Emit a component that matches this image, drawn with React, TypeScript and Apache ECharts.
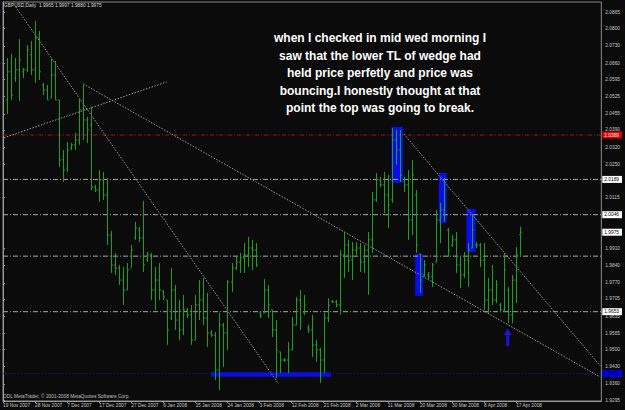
import React, { useEffect, useRef } from "react";
import * as echarts from "echarts";

// ---- data ----
const dateLabels = [
  "19 Nov 2007", "28 Nov 2007", "7 Dec 2007", "17 Dec 2007", "27 Dec 2007", "6 Jan 2008",
  "15 Jan 2008", "24 Jan 2008", "3 Feb 2008", "12 Feb 2008", "21 Feb 2008", "2 Mar 2008",
  "11 Mar 2008", "20 Mar 2008", "30 Mar 2008", "8 Apr 2008", "17 Apr 2008",
];
const firstBarSlot = 1;
const opens = [
  2.0511, 2.0625, 2.0600, 2.0633, 2.0625, 2.0633, 2.0694, 2.0633, 2.0762, 2.0572,
  2.0552, 2.0519, 2.0612, 2.0511, 2.0268, 2.0235, 2.0317, 2.0329, 2.0349, 2.0471,
  2.0430, 2.0410, 2.0158, 2.0146, 2.0187, 2.0126, 1.9964, 1.9842, 1.9830, 1.9781,
  1.9741, 1.9830, 1.9952, 1.9984, 1.9952, 1.9862, 1.9883, 1.9741, 1.9781, 1.9733,
  1.9700, 1.9627, 1.9741, 1.9619, 1.9579, 1.9660, 1.9640, 1.9538, 1.9680, 1.9700,
  1.9627, 1.9567, 1.9558, 1.9417, 1.9599, 1.9567, 1.9773, 1.9830, 1.9854, 1.9871,
  1.9883, 1.9911, 1.9903, 1.9648, 1.9648, 1.9741, 1.9660, 1.9579, 1.9490, 1.9457,
  1.9457, 1.9498, 1.9599, 1.9700, 1.9648, 1.9587, 1.9579, 1.9518, 1.9498, 1.9457,
  1.9627, 1.9696, 1.9692, 1.9680, 1.9883, 1.9923, 1.9862, 1.9903, 1.9911, 1.9854,
  1.9903, 1.9944, 2.0106, 2.0187, 2.0167, 2.0126, 2.0106, 2.0349, 2.0308, 2.0187,
  2.0167, 2.0025, 2.0126, 1.9887, 1.9802, 1.9802, 1.9794, 1.9854, 2.0025, 2.0065,
  1.9984, 1.9923, 1.9944, 1.9842, 1.9802, 1.9862, 1.9911, 1.9923, 1.9923, 1.9862,
  1.9700, 1.9741, 1.9700, 1.9680, 1.9660, 1.9741, 1.9640, 1.9781, 1.9965,
];
const highs = [
  2.0681, 2.0698, 2.0681, 2.0758, 2.0641, 2.0734, 2.0750, 2.0831, 2.0791, 2.0580,
  2.0572, 2.0677, 2.0669, 2.0511, 2.0308, 2.0341, 2.0337, 2.0377, 2.0519, 2.0576,
  2.0442, 2.0483, 2.0167, 2.0227, 2.0219, 2.0195, 1.9980, 1.9891, 1.9842, 1.9834,
  1.9850, 1.9923, 2.0017, 1.9996, 2.0102, 1.9895, 1.9891, 1.9834, 1.9850, 1.9741,
  1.9700, 1.9830, 1.9761, 1.9700, 1.9721, 1.9668, 1.9680, 1.9721, 1.9781, 1.9790,
  1.9729, 1.9579, 1.9571, 1.9648, 1.9607, 1.9781, 1.9850, 1.9875, 1.9891, 1.9931,
  1.9956, 1.9944, 1.9931, 1.9652, 1.9785, 1.9761, 1.9660, 1.9619, 1.9490, 1.9465,
  1.9530, 1.9631, 1.9712, 1.9741, 1.9721, 1.9599, 1.9640, 1.9538, 1.9506, 1.9648,
  1.9708, 1.9700, 1.9700, 1.9903, 1.9976, 1.9944, 1.9935, 1.9935, 1.9931, 1.9923,
  1.9976, 2.0138, 2.0215, 2.0199, 2.0219, 2.0207, 2.0398, 2.0390, 2.0390, 2.0199,
  2.0227, 2.0268, 2.0146, 1.9887, 1.9862, 1.9814, 1.9850, 2.0065, 2.0094, 2.0195,
  1.9992, 1.9964, 1.9976, 1.9875, 1.9895, 1.9931, 2.0045, 1.9935, 1.9931, 1.9931,
  1.9790, 1.9842, 1.9781, 1.9688, 1.9891, 1.9753, 1.9802, 1.9915, 1.9997,
];
const lows = [
  2.0454, 2.0511, 2.0584, 2.0507, 2.0600, 2.0625, 2.0612, 2.0580, 2.0592, 2.0531,
  2.0511, 2.0519, 2.0511, 2.0239, 2.0179, 2.0219, 2.0308, 2.0308, 2.0329, 2.0349,
  2.0337, 2.0146, 2.0138, 2.0098, 2.0106, 1.9923, 1.9810, 1.9802, 1.9761, 1.9680,
  1.9741, 1.9834, 1.9944, 1.9935, 1.9814, 1.9854, 1.9700, 1.9660, 1.9700, 1.9700,
  1.9518, 1.9619, 1.9579, 1.9538, 1.9558, 1.9627, 1.9518, 1.9538, 1.9619, 1.9599,
  1.9510, 1.9550, 1.9376, 1.9335, 1.9429, 1.9498, 1.9733, 1.9822, 1.9810, 1.9810,
  1.9834, 1.9822, 1.9834, 1.9627, 1.9648, 1.9627, 1.9550, 1.9384, 1.9404, 1.9449,
  1.9404, 1.9498, 1.9599, 1.9579, 1.9640, 1.9567, 1.9469, 1.9449, 1.9364, 1.9404,
  1.9611, 1.9688, 1.9672, 1.9640, 1.9790, 1.9814, 1.9781, 1.9883, 1.9814, 1.9810,
  1.9721, 1.9891, 2.0098, 2.0158, 2.0053, 1.9992, 2.0094, 2.0248, 2.0179, 2.0138,
  1.9944, 1.9964, 1.9891, 1.9729, 1.9794, 1.9781, 1.9753, 1.9854, 1.9931, 2.0017,
  1.9875, 1.9915, 1.9810, 1.9749, 1.9790, 1.9753, 1.9911, 1.9911, 1.9834, 1.9660,
  1.9648, 1.9680, 1.9688, 1.9652, 1.9652, 1.9607, 1.9607, 1.9688, 1.9880,
];
const closes = [
  2.0625, 2.0531, 2.0633, 2.0673, 2.0633, 2.0714, 2.0633, 2.0762, 2.0625, 2.0552,
  2.0511, 2.0612, 2.0511, 2.0268, 2.0227, 2.0308, 2.0329, 2.0349, 2.0471, 2.0430,
  2.0390, 2.0158, 2.0146, 2.0187, 2.0126, 1.9964, 1.9842, 1.9830, 1.9781, 1.9741,
  1.9822, 1.9903, 1.9992, 1.9952, 1.9842, 1.9883, 1.9741, 1.9781, 1.9741, 1.9712,
  1.9579, 1.9741, 1.9619, 1.9579, 1.9660, 1.9640, 1.9538, 1.9680, 1.9700, 1.9627,
  1.9567, 1.9558, 1.9417, 1.9599, 1.9567, 1.9773, 1.9830, 1.9854, 1.9871, 1.9883,
  1.9911, 1.9903, 1.9842, 1.9635, 1.9741, 1.9680, 1.9579, 1.9498, 1.9457, 1.9457,
  1.9498, 1.9599, 1.9700, 1.9627, 1.9680, 1.9579, 1.9518, 1.9498, 1.9457, 1.9627,
  1.9680, 1.9692, 1.9680, 1.9883, 1.9923, 1.9862, 1.9903, 1.9911, 1.9854, 1.9903,
  1.9944, 2.0106, 2.0187, 2.0167, 2.0126, 2.0085, 2.0349, 2.0308, 2.0207, 2.0167,
  2.0025, 2.0207, 1.9923, 1.9781, 1.9842, 1.9794, 1.9842, 2.0025, 2.0065, 2.0045,
  1.9903, 1.9944, 1.9842, 1.9802, 1.9862, 1.9903, 1.9984, 1.9923, 1.9862, 1.9700,
  1.9741, 1.9700, 1.9761, 1.9660, 1.9822, 1.9640, 1.9781, 1.9883, 1.9975,
];

const priceTicks = [
  2.0865, 2.08, 2.073, 2.066, 2.0595, 2.0525, 2.0455, 2.039, 2.032, 2.025, 2.0115,
  1.991, 1.984, 1.977, 1.9705, 1.9635, 1.9565, 1.95, 1.943, 1.936, 1.9295,
];
const whiteLevels = [2.0189, 2.0046, 1.9653];
const hiddenLevel = 1.9878;
const redLevel = 2.0369;
const blueLevel = 1.9402;
const bidPrice = 1.9975;

const trendLines = [
  [[3.2, 2.0888], [68.7, 1.9361]],
  [[0.25, 2.0358], [40.8, 2.0584]],
  [[20, 2.0576], [149.0, 1.9388]],
  [[100, 2.0373], [149.0, 1.9433]],
];
// [slotFrom, slotTo, priceTop, priceBottom]
const boxes = [
  [51.9, 81.8, 1.9408, 1.9389],
  [96.9, 99.8, 2.0402, 2.0175],
  [108.7, 110.7, 2.0215, 2.0013],
  [115.6, 117.9, 2.0069, 1.9895],
  [102.8, 104.8, 1.9887, 1.9717],
];
const arrowMark = [125.9, 1.9549];

const titleText = "GBPUSD,Daily  1.9965 1.9997 1.9880 1.9975";
const copyrightText = "ODL MetaTrader, \u00a9 2001-2008 MetaQuotes Software Corp.";
const noteLines = [
  "when I checked in mid wed morning I",
  "saw that the lower TL of wedge had",
  "held price perfetly and price was",
  "bouncing.I honestly thought at that",
  "point the top was going to break.",
];

const FONT = "'Liberation Sans', Arial, sans-serif";
const BAR_COLOR = "#1f9f1f";
const X_MIN = 0;
const X_MAX = 149.25;

export default function App() {
  const ref = useRef<HTMLDivElement>(null);
  useEffect(() => {
    if (!ref.current) return;
    const chart = echarts.init(ref.current, null, { renderer: "svg" });
    const barData = opens.map((o, i) => [firstBarSlot + i, o, highs[i], lows[i], closes[i]]);
    const fmt = (v: number) => v.toFixed(4);
    const isIn = (arr: number[], v: number) => arr.some((a) => Math.abs(a - v) < 1e-6);

    const hLine = (v: number, color: string, type: number[]) => ({
      type: "line",
      z: 1,
      silent: true,
      symbol: "none",
      data: [[X_MIN, v], [X_MAX, v]],
      lineStyle: { color, width: 1, type },
    });

    const option: any = {
      animation: false,
      backgroundColor: "#0b0b0b",
      grid: { left: 2, right: 19, top: 2, bottom: 9, show: true, borderColor: "#8c8c8c", borderWidth: 1 },
      xAxis: {
        type: "value",
        min: X_MIN,
        max: X_MAX,
        splitLine: { show: false },
        axisLine: { show: true, lineStyle: { color: "#9a9a9a" } },
        axisTick: { show: true, customValues: dateLabels.map((_, i) => i * 8), length: 2, lineStyle: { color: "#9a9a9a" } },
        axisLabel: {
          customValues: dateLabels.map((_, i) => i * 8),
          formatter: (v: number) => dateLabels[Math.round(v / 8)] ?? "",
          align: "left",
          color: "#c8c8c8",
          fontSize: 4.8,
          fontFamily: FONT,
          margin: 2,
        },
      },
      yAxis: {
        type: "value",
        position: "right",
        min: 1.9291,
        max: 2.0908,
        splitLine: { show: false },
        axisLine: { show: true, lineStyle: { color: "#9a9a9a" } },
        axisTick: { show: true, customValues: priceTicks, length: 2, lineStyle: { color: "#9a9a9a" } },
        axisLabel: {
          customValues: [...priceTicks, ...whiteLevels, bidPrice, redLevel, blueLevel],
          margin: 1,
          fontSize: 4.8,
          fontFamily: FONT,
          color: "#c8c8c8",
          formatter: (v: number) => {
            if (isIn(whiteLevels, v) || Math.abs(v - bidPrice) < 1e-6) return `{w|${fmt(v)}}`;
            if (Math.abs(v - redLevel) < 1e-6) return `{r|${fmt(v)}}`;
            if (Math.abs(v - blueLevel) < 1e-6) return `{b|${fmt(v)}}`;
            return `{n|${fmt(v)}}`;
          },
          rich: {
            n: { color: "#c8c8c8", fontSize: 4.8, fontFamily: FONT, padding: [0, 0, 0, 3] },
            w: { color: "#000", backgroundColor: "#ffffff", fontSize: 4.8, fontFamily: FONT, padding: [1, 3, 1, 2] },
            r: { color: "#fff", backgroundColor: "#e00000", fontSize: 4.8, fontFamily: FONT, padding: [1, 3, 1, 2] },
            b: { color: "#000", backgroundColor: "#0000f0", fontSize: 4.8, fontFamily: FONT, padding: [1, 3, 1, 2] },
          },
        },
      },
      series: [
        {
          type: "line",
          z: 1,
          data: [],
          silent: true,
          markArea: {
            silent: true,
            itemStyle: { color: "#0c0ce6" },
            data: boxes.map((b) => [{ coord: [b[0], b[2]] }, { coord: [b[1], b[3]] }]),
          },
        },
        ...whiteLevels.map((v) => hLine(v, "#a8a8a8", [5, 2, 1, 2])),
        hLine(hiddenLevel, "#a8a8a8", [5, 2, 1, 2]),
        hLine(redLevel, "#a01818", [4, 2, 1, 2]),
        hLine(blueLevel, "#1616b0", [1, 2]),
        ...trendLines.map((ln) => ({
          type: "line",
          z: 2,
          data: ln,
          symbol: "none",
          silent: true,
          lineStyle: { color: "#a0a0a0", width: 1, type: [1.5, 1.5] },
        })),
        {
          type: "custom",
          z: 3,
          clip: true,
          data: barData,
          encode: { x: 0, y: [1, 2, 3, 4] },
          renderItem: (_p: any, api: any) => {
            const s = api.value(0);
            const top = api.coord([s, api.value(2)]);
            const bot = api.coord([s, api.value(3)]);
            const po = api.coord([s, api.value(1)]);
            const pc = api.coord([s, api.value(4)]);
            const x = Math.round(top[0]) + 0.5;
            const st = { stroke: BAR_COLOR, lineWidth: 1 };
            return {
              type: "group",
              children: [
                { type: "line", shape: { x1: x, y1: top[1], x2: x, y2: bot[1] }, style: st },
                { type: "line", shape: { x1: x - 1.5, y1: po[1], x2: x, y2: po[1] }, style: st },
                { type: "line", shape: { x1: x, y1: pc[1], x2: x + 1.5, y2: pc[1] }, style: st },
              ],
            };
          },
        },
        {
          type: "scatter",
          z: 4,
          silent: true,
          data: [arrowMark],
          symbol: "path://M5,0 L10,6 L7,6 L7,16 L3,16 L3,6 L0,6 Z",
          symbolSize: [8, 18],
          itemStyle: { color: "#1a1aff" },
        },
      ],
      graphic: [
        {
          type: "text",
          x: 4,
          y: 3,
          z: 10,
          style: { text: titleText, fill: "#d8d8d8", font: `4.8px ${FONT}` },
        },
        {
          type: "text",
          x: 3,
          y: 394,
          z: 10,
          style: { text: copyrightText, fill: "#c0c0c0", font: `4.8px ${FONT}` },
        },
        ...noteLines.map((t, i) => ({
          type: "text",
          x: 380,
          y: 38 + i * 17.5,
          z: 10,
          style: {
            text: t,
            fill: "#ffffff",
            font: `bold 12px ${FONT}`,
            textAlign: "center",
            align: "center",
            textVerticalAlign: "middle",
            verticalAlign: "middle",
          },
        })),
      ],
    };
    chart.setOption(option);
    return () => chart.dispose();
  }, []);
  return (
    <div
      ref={ref}
      style={{ position: "fixed", left: 0, top: 0, width: 625, height: 410, background: "#0b0b0b" }}
    />
  );
}
